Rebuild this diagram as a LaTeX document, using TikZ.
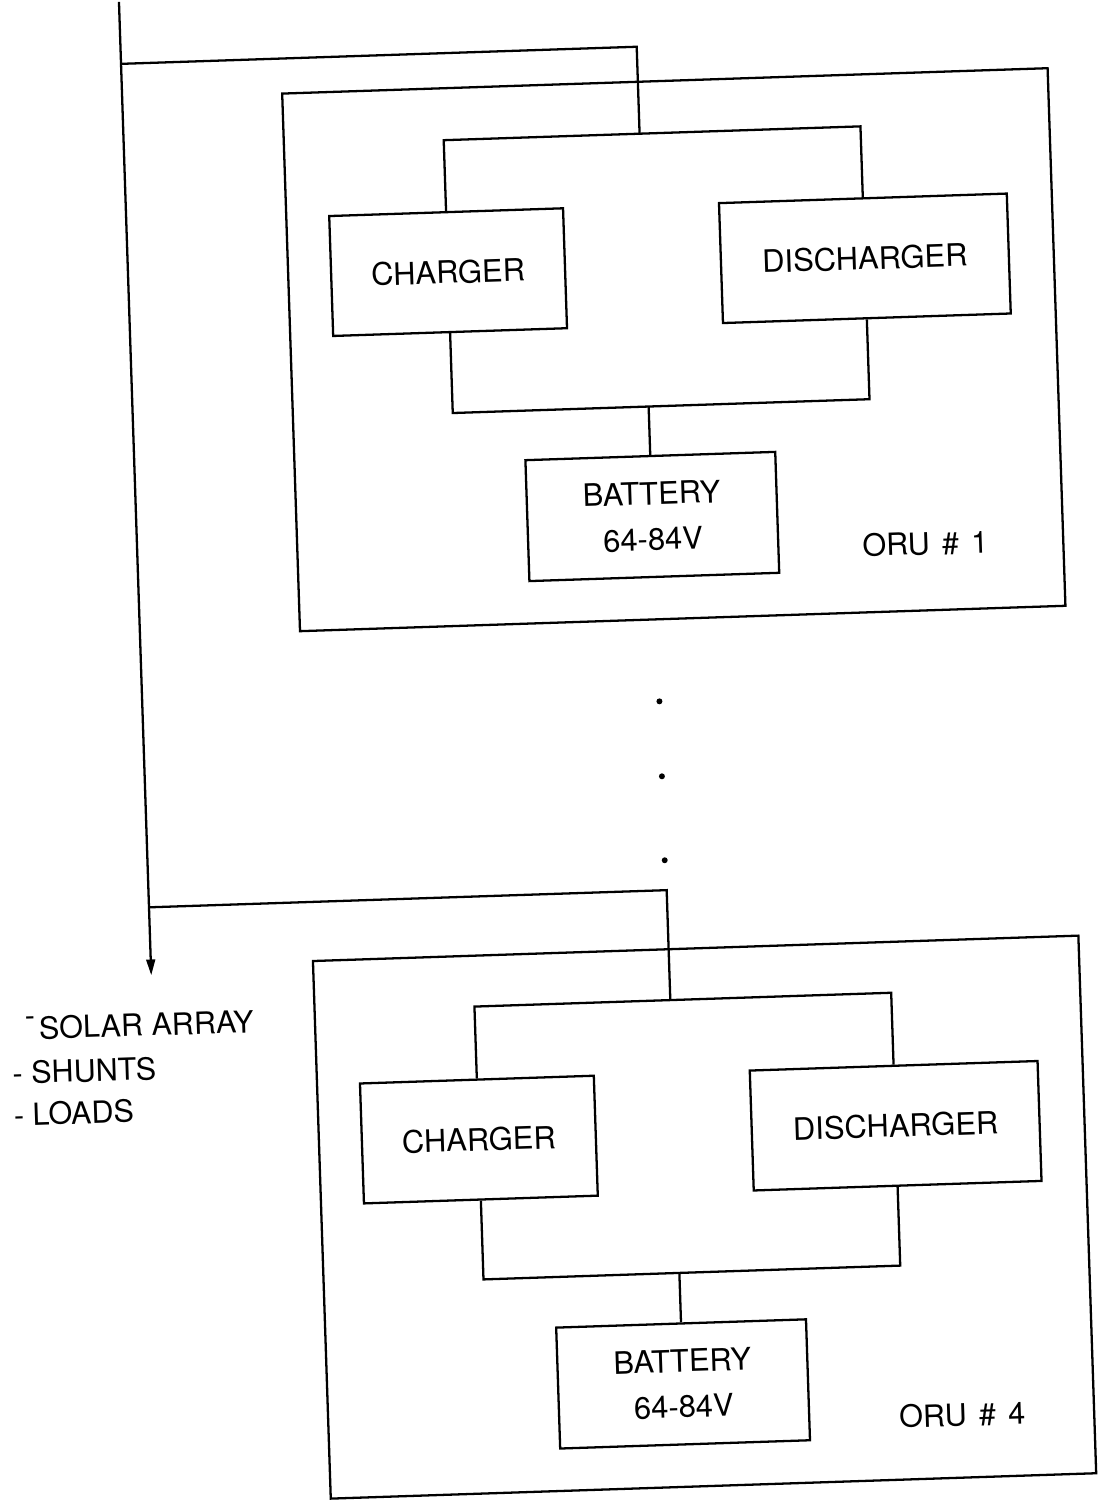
\documentclass[tikz,border=0pt]{standalone}
\usepackage{fontspec}
\setmainfont{TeX Gyre Heros}
\usetikzlibrary{arrows.meta}
\tikzset{
  block/.style={draw, rectangle, minimum height=2.4cm, inner sep=0pt,
    font=\fontsize{17.6}{26}\selectfont, align=center},
  chargerbox/.style={block, minimum width=4.68cm},
  dischargerbox/.style={block, minimum width=5.76cm},
  batterybox/.style={block, minimum width=5cm, minimum height=2.42cm},
  orubox/.style={draw, rectangle, minimum width=15.32cm, minimum height=10.76cm, inner sep=0pt},
  tag/.style={inner sep=0pt, font=\fontsize{17.4}{20}\selectfont},
  dot/.style={circle, fill, inner sep=0pt, minimum size=3.4pt},
}
\begin{document}
\begin{tikzpicture}[x=0.02cm, y=-0.02cm, line width=1.3pt]
\useasboundingbox (0,0) rectangle (1099,1500);
\begin{scope}[rotate around={1.9:(550,750)}, transform shape]
% main bus
\coordinate (bustop) at (144,-12);
\coordinate (busend) at (144,962);
\coordinate (j1) at (144,50);
\coordinate (j4) at (144,894);
\draw [-{Triangle[length=9pt,width=5pt]}] (bustop) -- (busend);
% ORU 1
\node[orubox] (oru1) at (687,354) {};
\node[chargerbox] (chg1) at (464,269) {CHARGER};
\node[dischargerbox] (dis1) at (881,269) {DISCHARGER};
\node[batterybox] (bat1) at (660,520) {BATTERY\\64-84V};
\node[tag] (tag1) at (932,556) {ORU\hspace{0.4em}\#\hspace{0.4em}1};
\coordinate (top1) at (660,137);
\coordinate (bot1) at (660,410);
\draw [] (j1) -| (top1);
\draw [] (chg1.north) |- (top1) -| (dis1.north);
\draw [] (chg1.south) |- (bot1) -| (dis1.south);
\draw [] (bot1) -- (bat1.north);
% dots
\node[dot] (dot1) at (661,705) {};
\node[dot] (dot2) at (661,780) {};
\node[dot] (dot3) at (661,864) {};
% ORU 4
\node[orubox] (oru4) at (689,1222) {};
\node[chargerbox] (chg4) at (466,1137) {CHARGER};
\node[dischargerbox] (dis4) at (883,1137) {DISCHARGER};
\node[batterybox] (bat4) at (662,1388) {BATTERY\\64-84V};
\node[tag] (tag4) at (940,1428) {ORU\hspace{0.4em}\#\hspace{0.4em}4};
\coordinate (top4) at (662,1004);
\coordinate (bot4) at (662,1277);
\draw [] (j4) -| (top4);
\draw [] (chg4.north) |- (top4) -| (dis4.north);
\draw [] (chg4.south) |- (bot4) -| (dis4.south);
\draw [] (bot4) -- (bat4.north);
% bus ends
\node[tag, anchor=west] (solar) at (15,1011) {\raisebox{0.45em}{-}\hspace{0.12em}SOLAR ARRAY};
\node[tag, anchor=west] (shunts) at (1,1055) {- SHUNTS};
\node[tag, anchor=west] (loads) at (1,1097) {- LOADS};
\end{scope}
\end{tikzpicture}
\end{document}
